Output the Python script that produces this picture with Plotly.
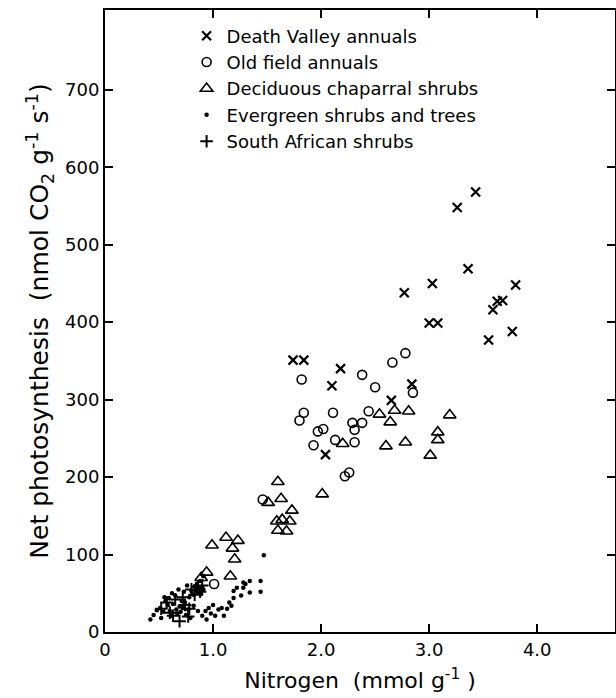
import plotly.graph_objects as go

# Death Valley annuals (x)
dv_x = [3.43, 3.26, 3.36, 3.03, 2.77, 3.80, 3.63, 3.68, 3.59, 3.00, 3.08, 3.55, 3.77,
        1.74, 1.84, 2.18, 2.10, 2.84, 2.65, 2.04]
dv_y = [568, 548, 469, 450, 438, 448, 427, 428, 416, 399, 399, 377, 388,
        351, 351, 340, 318, 320, 299, 229]

# Old field annuals (o)
of_x = [2.78, 2.66, 1.82, 2.38, 2.50, 2.85, 1.84, 1.80, 2.11, 2.44, 2.29, 2.38, 2.31,
        1.97, 2.02, 2.13, 2.31, 1.93, 2.22, 2.26, 1.46, 1.01]
of_y = [360, 348, 326, 332, 316, 309, 283, 273, 283, 285, 270, 270, 261,
        259, 262, 248, 245, 241, 201, 206, 171, 62]

# Deciduous chaparral shrubs (triangles)
dc_x = [2.54, 2.68, 2.81, 3.19, 2.64, 3.08, 3.08, 2.20, 2.60, 2.78, 3.01, 2.01,
        1.60, 1.51, 1.63, 1.73, 1.59, 1.64, 1.71, 1.60, 1.68,
        0.99, 1.12, 1.23, 1.18, 1.20, 1.16, 0.94, 0.89]
dc_y = [281, 286, 285, 280, 271, 258, 248, 243, 240, 245, 228, 178,
        194, 167, 172, 157, 143, 145, 143, 131, 130,
        112, 122, 118, 108, 94, 72, 77, 70]

# Evergreen shrubs and trees (dots)
eg_x = [0.42, 0.52, 0.62, 0.79, 0.90, 0.56, 0.51, 0.59, 0.63, 0.66, 0.71, 0.72, 0.77,
        0.82, 0.86, 0.80, 0.83, 0.86, 0.91, 0.88, 0.91, 0.65, 0.60,
        1.28, 1.34, 1.44, 1.28, 1.19, 1.34, 1.44, 1.26, 1.19, 1.17, 1.13, 1.08,
        1.05, 1.02, 0.94, 0.96, 0.93, 1.10, 1.47,
        0.84, 0.87, 0.89, 0.82, 0.85, 0.78, 0.74, 0.69, 0.67, 0.58, 0.54, 0.48,
        0.45, 0.70, 0.75, 0.98, 1.00, 0.76, 0.73, 0.68, 1.22, 1.30, 1.15, 0.62, 0.55]
eg_y = [16, 18, 21, 18, 21, 40, 31, 44, 36, 29, 40, 31, 29,
        34, 27, 53, 59, 51, 55, 66, 72, 47, 27,
        64, 66, 66, 57, 53, 51, 52, 47, 44, 34, 30, 31,
        29, 21, 16, 31, 27, 21, 99,
        55, 57, 49, 48, 62, 45, 38, 33, 24, 35, 26, 28,
        22, 26, 22, 24, 35, 60, 52, 55, 57, 62, 38, 50, 45]

# South African shrubs (+)
sa_x = [0.69, 0.63, 0.80, 0.86, 0.83, 0.88, 0.57, 0.65, 0.74, 0.78, 0.60, 0.72, 0.52, 0.90, 0.77]
sa_y = [14, 21, 55, 58, 48, 52, 38, 42, 35, 30, 25, 45, 30, 60, 20]

x_tick_vals = [0, 1, 2, 3, 4]
x_tick_text = ["0", "1.0", "2.0", "3.0", "4.0"]
y_tick_vals = [0, 100, 200, 300, 400, 500, 600, 700]
y_tick_text = ["0", "100", "200", "300", "400", "500", "600", "700"]

fig = go.Figure()
fig.add_trace(go.Scatter(x=dv_x, y=dv_y, mode="markers", name="Death Valley annuals",
                         marker=dict(symbol="x-thin-open", size=9, color="black",
                                     line=dict(width=2.2, color="black"))))
fig.add_trace(go.Scatter(x=of_x, y=of_y, mode="markers", name="Old field annuals",
                         marker=dict(symbol="circle-open", size=9, color="black",
                                     line=dict(width=1.6, color="black"))))
fig.add_trace(go.Scatter(x=dc_x, y=dc_y, mode="markers", name="Deciduous chaparral shrubs",
                         marker=dict(symbol="triangle-up-open", size=11, color="black",
                                     line=dict(width=1.6, color="black"))))
fig.add_trace(go.Scatter(x=eg_x, y=eg_y, mode="markers", name="Evergreen shrubs and trees",
                         marker=dict(symbol="circle", size=4.5, color="black")))
fig.add_trace(go.Scatter(x=sa_x, y=sa_y, mode="markers", name="South African shrubs",
                         marker=dict(symbol="cross-thin-open", size=9, color="black",
                                     line=dict(width=2, color="black"))))

axis_common = dict(showline=True, linecolor="black", linewidth=2, mirror="ticks",
                   ticks="inside", ticklen=8, tickwidth=1.5, tickcolor="black",
                   showgrid=False, zeroline=False, automargin=False,
                   tickfont=dict(family="DejaVu Sans", size=18, color="black"))

fig.update_xaxes(range=[0, 4.72], tickvals=x_tick_vals, ticktext=x_tick_text,
                 title=dict(text="Nitrogen  (mmol g<sup>-1</sup> )",
                            font=dict(family="DejaVu Sans", size=22, color="black"),
                            standoff=14),
                 **axis_common)
fig.update_yaxes(range=[0, 803], tickvals=y_tick_vals, ticktext=y_tick_text,
                 title=dict(text="Net photosynthesis  (nmol CO<sub>2</sub> g<sup>-1</sup> s<sup>-1</sup>)",
                            font=dict(family="DejaVu Sans", size=25, color="black"),
                            standoff=9),
                 **axis_common)

fig.update_layout(
    width=616, height=698,
    margin=dict(l=105, r=1, t=10, b=66),
    paper_bgcolor="white", plot_bgcolor="white",
    legend=dict(x=0.16, y=0.988, xanchor="left", yanchor="top",
                font=dict(family="DejaVu Sans", size=18, color="black"),
                bgcolor="rgba(0,0,0,0)", itemwidth=30, tracegroupgap=0),
    showlegend=True,
)

# remove the default page margin so the 616x698 figure fills the window exactly
fig.write_html("out.html",
               config={"displayModeBar": False},
               post_script="document.body.style.margin='0';document.body.style.overflow='hidden';")
